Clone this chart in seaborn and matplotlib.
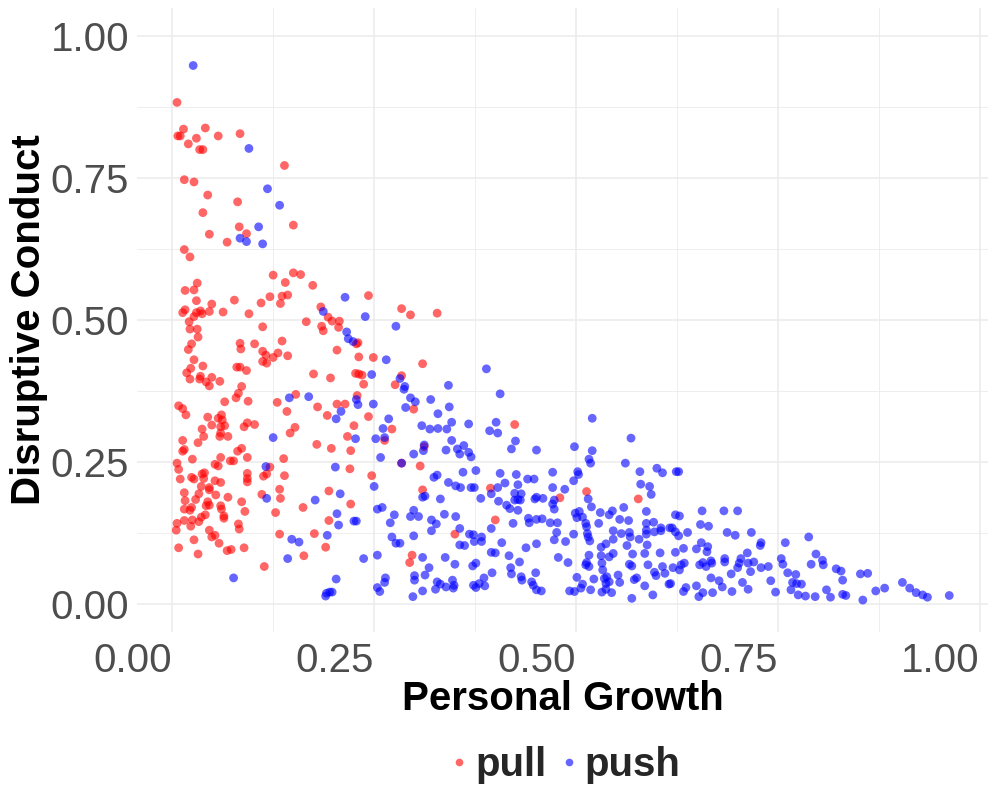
import matplotlib
matplotlib.use("Agg")
import matplotlib.pyplot as plt
from matplotlib.lines import Line2D
from matplotlib.ticker import MultipleLocator
import pandas as pd
import seaborn as sns

# values (Personal Growth, Disruptive Conduct)
pull_pts = [
    (0.006, 0.883), (0.014, 0.836), (0.007, 0.824), (0.010, 0.824), (0.041, 0.838), (0.030, 0.820),
    (0.020, 0.810), (0.034, 0.800), (0.038, 0.800), (0.057, 0.824), (0.084, 0.828), (0.139, 0.772),
    (0.015, 0.747), (0.027, 0.743), (0.044, 0.720), (0.081, 0.708), (0.038, 0.689), (0.150, 0.667),
    (0.083, 0.664), (0.092, 0.652), (0.046, 0.651), (0.068, 0.637), (0.015, 0.624),
    (0.022, 0.611), (0.031, 0.565), (0.016, 0.552), (0.027, 0.553), (0.030, 0.534), (0.049, 0.528),
    (0.077, 0.535), (0.110, 0.530), (0.121, 0.541), (0.016, 0.518), (0.013, 0.513), (0.030, 0.513),
    (0.035, 0.516), (0.037, 0.511), (0.027, 0.506), (0.046, 0.515), (0.063, 0.514), (0.095, 0.511),
    (0.021, 0.497), (0.022, 0.484), (0.031, 0.484), (0.032, 0.470), (0.112, 0.488), (0.024, 0.458),
    (0.020, 0.448), (0.084, 0.459), (0.085, 0.449), (0.102, 0.458), (0.112, 0.445), (0.116, 0.438),
    (0.112, 0.427), (0.117, 0.424), (0.027, 0.430), (0.038, 0.419), (0.023, 0.415), (0.018, 0.407),
    (0.080, 0.417), (0.084, 0.417), (0.092, 0.411), (0.022, 0.396), (0.035, 0.401), (0.034, 0.396),
    (0.042, 0.391), (0.046, 0.384), (0.049, 0.399), (0.059, 0.392), (0.086, 0.383), (0.082, 0.371),
    (0.079, 0.363), (0.065, 0.356), (0.094, 0.357), (0.008, 0.349), (0.013, 0.344),
    (0.017, 0.333), (0.044, 0.329), (0.057, 0.327), (0.061, 0.333), (0.062, 0.324), (0.049, 0.315),
    (0.065, 0.314), (0.060, 0.312), (0.093, 0.319), (0.089, 0.312), (0.102, 0.316), (0.037, 0.308),
    (0.039, 0.295), (0.060, 0.301), (0.059, 0.295), (0.069, 0.295), (0.013, 0.288), (0.032, 0.284),
    (0.015, 0.272), (0.013, 0.269), (0.086, 0.274), (0.081, 0.269), (0.025, 0.255), (0.060, 0.258),
    (0.093, 0.258), (0.006, 0.248), (0.008, 0.237), (0.053, 0.246), (0.057, 0.243), (0.072, 0.252),
    (0.076, 0.252), (0.010, 0.220), (0.024, 0.223), (0.027, 0.220), (0.037, 0.229), (0.040, 0.231),
    (0.039, 0.221), (0.053, 0.217), (0.060, 0.214), (0.093, 0.230), (0.093, 0.221), (0.093, 0.215),
    (0.036, 0.207), (0.046, 0.205), (0.046, 0.201), (0.015, 0.196), (0.033, 0.194), (0.054, 0.192),
    (0.069, 0.188), (0.111, 0.193), (0.016, 0.182), (0.029, 0.184), (0.044, 0.180), (0.046, 0.174),
    (0.042, 0.173), (0.086, 0.180), (0.015, 0.167), (0.024, 0.170), (0.022, 0.165), (0.060, 0.173),
    (0.061, 0.167), (0.090, 0.163), (0.041, 0.157), (0.036, 0.153), (0.064, 0.155), (0.064, 0.151),
    (0.006, 0.142), (0.015, 0.147), (0.025, 0.148), (0.023, 0.137), (0.033, 0.145), (0.082, 0.141),
    (0.083, 0.132), (0.005, 0.130), (0.046, 0.130), (0.053, 0.121), (0.049, 0.118), (0.027, 0.113),
    (0.058, 0.107), (0.008, 0.099), (0.068, 0.094), (0.073, 0.096), (0.089, 0.099), (0.032, 0.088),
    (0.114, 0.066),
    (0.125, 0.579), (0.150, 0.583), (0.159, 0.580), (0.140, 0.566), (0.174, 0.561), (0.136, 0.542),
    (0.143, 0.544), (0.134, 0.529), (0.243, 0.543), (0.184, 0.523), (0.193, 0.505), (0.198, 0.498),
    (0.207, 0.498), (0.284, 0.520), (0.295, 0.509), (0.328, 0.512), (0.166, 0.497), (0.185, 0.489),
    (0.187, 0.481), (0.206, 0.487), (0.230, 0.460), (0.228, 0.458), (0.136, 0.463), (0.131, 0.442),
    (0.125, 0.434), (0.143, 0.437), (0.204, 0.447), (0.231, 0.435), (0.249, 0.434), (0.310, 0.423),
    (0.175, 0.405), (0.196, 0.398), (0.227, 0.406), (0.231, 0.405), (0.235, 0.403), (0.237, 0.387),
    (0.284, 0.402), (0.276, 0.386), (0.153, 0.369), (0.130, 0.355), (0.229, 0.367), (0.180, 0.347),
    (0.204, 0.352), (0.214, 0.352),
    (0.142, 0.339), (0.192, 0.332), (0.243, 0.330), (0.152, 0.311), (0.146, 0.301), (0.225, 0.314),
    (0.272, 0.308), (0.179, 0.281), (0.197, 0.274), (0.217, 0.295), (0.221, 0.270), (0.263, 0.288),
    (0.138, 0.256), (0.121, 0.241), (0.113, 0.225), (0.117, 0.229), (0.139, 0.226), (0.220, 0.238),
    (0.247, 0.226), (0.133, 0.202), (0.134, 0.186), (0.194, 0.199), (0.162, 0.170), (0.221, 0.176),
    (0.128, 0.161), (0.194, 0.147), (0.133, 0.123), (0.176, 0.124), (0.190, 0.100), (0.163, 0.085),
    (0.424, 0.316), (0.299, 0.343), (0.312, 0.277), (0.284, 0.248), (0.307, 0.243), (0.394, 0.204),
    (0.310, 0.201), (0.400, 0.148), (0.350, 0.123), (0.297, 0.086), (0.294, 0.073), (0.513, 0.198),
    (0.480, 0.187), (0.577, 0.185),
]

push_pts = [
    (0.026, 0.948), (0.095, 0.802), (0.118, 0.731), (0.133, 0.702), (0.107, 0.664), (0.084, 0.644),
    (0.092, 0.638), (0.112, 0.634), (0.116, 0.242), (0.117, 0.186), (0.076, 0.046),
    (0.214, 0.540), (0.187, 0.515), (0.239, 0.506), (0.277, 0.489), (0.216, 0.479), (0.218, 0.467),
    (0.224, 0.462), (0.265, 0.430), (0.247, 0.404), (0.282, 0.397), (0.288, 0.383), (0.287, 0.378),
    (0.295, 0.363), (0.301, 0.356), (0.320, 0.360), (0.145, 0.363), (0.169, 0.365), (0.228, 0.360),
    (0.230, 0.351), (0.249, 0.352),
    (0.209, 0.339), (0.203, 0.326), (0.268, 0.326), (0.261, 0.309), (0.125, 0.293), (0.227, 0.291),
    (0.252, 0.291), (0.263, 0.293), (0.258, 0.258), (0.202, 0.241), (0.250, 0.207), (0.208, 0.194),
    (0.177, 0.183), (0.254, 0.167), (0.260, 0.170), (0.275, 0.157), (0.204, 0.159), (0.206, 0.139),
    (0.225, 0.146), (0.228, 0.146), (0.270, 0.143), (0.192, 0.121), (0.148, 0.114), (0.157, 0.109),
    (0.272, 0.118), (0.277, 0.107), (0.143, 0.080), (0.237, 0.080), (0.254, 0.086), (0.203, 0.044),
    (0.264, 0.046), (0.263, 0.038), (0.254, 0.029), (0.257, 0.022), (0.191, 0.019), (0.195, 0.021),
    (0.198, 0.021), (0.190, 0.014),
    (0.389, 0.414), (0.342, 0.385), (0.406, 0.370), (0.343, 0.347), (0.329, 0.335), (0.319, 0.308),
    (0.329, 0.309), (0.340, 0.308), (0.346, 0.320), (0.367, 0.317), (0.401, 0.320), (0.393, 0.305),
    (0.403, 0.301), (0.520, 0.327), (0.346, 0.288), (0.361, 0.279), (0.353, 0.273), (0.425, 0.287),
    (0.420, 0.273), (0.451, 0.271), (0.498, 0.277), (0.520, 0.270), (0.339, 0.271),
    (0.289, 0.346), (0.309, 0.314), (0.312, 0.280), (0.311, 0.270), (0.299, 0.264), (0.356, 0.264),
    (0.367, 0.267), (0.370, 0.259), (0.284, 0.248), (0.324, 0.223), (0.328, 0.227), (0.342, 0.214),
    (0.360, 0.232), (0.376, 0.235), (0.351, 0.208), (0.357, 0.205), (0.370, 0.205), (0.374, 0.205),
    (0.406, 0.230), (0.412, 0.213), (0.426, 0.228), (0.440, 0.220), (0.448, 0.220), (0.428, 0.210),
    (0.424, 0.195), (0.432, 0.194), (0.424, 0.183), (0.428, 0.184), (0.431, 0.183), (0.403, 0.205),
    (0.395, 0.194), (0.313, 0.190), (0.310, 0.188), (0.332, 0.185), (0.382, 0.186), (0.404, 0.181),
    (0.414, 0.174), (0.418, 0.168), (0.428, 0.165), (0.449, 0.185), (0.451, 0.188), (0.299, 0.165),
    (0.295, 0.154), (0.305, 0.154), (0.337, 0.158), (0.351, 0.154), (0.321, 0.148), (0.327, 0.141),
    (0.321, 0.129), (0.356, 0.133), (0.395, 0.133), (0.422, 0.142), (0.441, 0.151), (0.442, 0.143),
    (0.451, 0.149), (0.299, 0.120), (0.282, 0.107), (0.368, 0.123), (0.373, 0.122), (0.383, 0.118),
    (0.374, 0.110), (0.383, 0.110), (0.356, 0.104), (0.362, 0.103), (0.408, 0.108), (0.438, 0.099),
    (0.451, 0.106), (0.395, 0.091), (0.400, 0.090), (0.310, 0.082), (0.338, 0.082), (0.350, 0.070),
    (0.376, 0.072), (0.372, 0.067), (0.417, 0.085), (0.430, 0.074), (0.318, 0.064), (0.419, 0.064),
    (0.420, 0.053), (0.450, 0.055), (0.300, 0.050), (0.300, 0.042), (0.313, 0.051), (0.328, 0.039),
    (0.332, 0.035), (0.347, 0.042), (0.349, 0.033), (0.348, 0.028), (0.326, 0.026), (0.339, 0.030),
    (0.310, 0.023), (0.298, 0.013), (0.386, 0.046), (0.373, 0.033), (0.380, 0.036), (0.387, 0.032),
    (0.376, 0.029), (0.396, 0.055), (0.432, 0.048), (0.433, 0.042), (0.445, 0.039), (0.447, 0.033),
    (0.451, 0.025),
    (0.568, 0.292), (0.516, 0.255), (0.518, 0.248), (0.561, 0.248), (0.600, 0.239), (0.607, 0.231),
    (0.471, 0.232), (0.502, 0.233), (0.503, 0.228), (0.579, 0.233), (0.497, 0.217), (0.580, 0.211),
    (0.591, 0.207), (0.593, 0.193), (0.471, 0.205), (0.486, 0.202), (0.459, 0.186), (0.473, 0.183),
    (0.471, 0.176), (0.473, 0.167), (0.515, 0.185), (0.519, 0.171), (0.559, 0.170), (0.587, 0.163),
    (0.530, 0.161), (0.545, 0.164), (0.541, 0.157), (0.499, 0.160), (0.504, 0.163), (0.501, 0.152),
    (0.508, 0.153), (0.458, 0.150), (0.468, 0.143), (0.477, 0.143), (0.512, 0.142), (0.513, 0.136),
    (0.528, 0.142), (0.554, 0.149), (0.565, 0.147), (0.587, 0.142), (0.596, 0.144), (0.546, 0.129),
    (0.556, 0.124), (0.566, 0.126), (0.567, 0.118), (0.587, 0.130), (0.587, 0.123), (0.597, 0.127),
    (0.605, 0.129), (0.605, 0.134), (0.616, 0.134), (0.497, 0.123), (0.514, 0.124), (0.517, 0.111),
    (0.515, 0.118), (0.476, 0.126), (0.473, 0.113), (0.487, 0.110), (0.546, 0.114), (0.537, 0.106),
    (0.531, 0.100), (0.563, 0.103), (0.578, 0.114), (0.588, 0.104), (0.478, 0.082), (0.490, 0.073),
    (0.516, 0.086), (0.513, 0.073), (0.516, 0.066), (0.512, 0.069), (0.531, 0.085), (0.532, 0.072),
    (0.533, 0.060), (0.546, 0.089), (0.541, 0.083), (0.570, 0.088), (0.585, 0.089), (0.604, 0.090),
    (0.566, 0.070), (0.569, 0.067), (0.589, 0.069), (0.597, 0.056), (0.599, 0.050), (0.607, 0.066),
    (0.610, 0.054), (0.501, 0.047), (0.522, 0.044), (0.535, 0.045), (0.538, 0.048), (0.541, 0.039),
    (0.537, 0.036), (0.552, 0.051), (0.554, 0.038), (0.572, 0.043), (0.575, 0.046), (0.585, 0.032),
    (0.615, 0.035), (0.457, 0.023), (0.492, 0.023), (0.498, 0.022), (0.506, 0.028), (0.508, 0.035),
    (0.518, 0.025), (0.532, 0.021), (0.544, 0.020), (0.537, 0.026), (0.569, 0.010), (0.595, 0.016),
    (0.624, 0.233), (0.627, 0.233), (0.656, 0.164), (0.683, 0.164), (0.700, 0.164), (0.623, 0.157),
    (0.628, 0.155), (0.619, 0.134), (0.623, 0.127), (0.627, 0.120), (0.638, 0.126), (0.654, 0.140),
    (0.664, 0.137), (0.687, 0.126), (0.697, 0.121), (0.717, 0.126), (0.729, 0.108), (0.728, 0.103),
    (0.759, 0.108), (0.788, 0.118), (0.623, 0.091), (0.633, 0.098), (0.649, 0.097), (0.655, 0.108),
    (0.663, 0.101), (0.662, 0.092), (0.620, 0.064), (0.628, 0.060), (0.630, 0.069), (0.634, 0.072),
    (0.653, 0.069), (0.657, 0.073), (0.661, 0.066), (0.667, 0.076), (0.668, 0.072), (0.684, 0.080),
    (0.684, 0.074), (0.704, 0.080), (0.702, 0.072), (0.700, 0.064), (0.712, 0.090), (0.713, 0.072),
    (0.720, 0.074), (0.716, 0.057), (0.729, 0.064), (0.738, 0.066), (0.754, 0.080), (0.756, 0.070),
    (0.762, 0.055), (0.772, 0.052), (0.617, 0.036), (0.667, 0.046), (0.677, 0.041), (0.681, 0.030),
    (0.692, 0.053), (0.706, 0.038), (0.649, 0.032), (0.636, 0.029), (0.633, 0.022), (0.657, 0.020),
    (0.652, 0.013), (0.669, 0.020), (0.693, 0.022), (0.713, 0.026), (0.741, 0.041), (0.747, 0.021),
    (0.768, 0.038), (0.773, 0.036), (0.779, 0.035), (0.766, 0.025), (0.775, 0.016), (0.784, 0.014),
    (0.797, 0.088), (0.791, 0.070), (0.805, 0.077), (0.806, 0.069), (0.822, 0.062), (0.828, 0.058),
    (0.830, 0.042), (0.852, 0.053), (0.861, 0.054), (0.796, 0.013), (0.810, 0.025), (0.815, 0.012),
    (0.830, 0.017), (0.834, 0.015), (0.855, 0.007), (0.871, 0.023), (0.882, 0.028), (0.904, 0.038),
    (0.913, 0.028), (0.921, 0.020), (0.929, 0.016), (0.935, 0.012), (0.962, 0.015),
]

groups = ["pull", "push"]
colors = {"pull": "#FF0000", "push": "#0000FF"}

df = pd.DataFrame(
    [(x, y, "pull") for x, y in pull_pts] + [(x, y, "push") for x, y in push_pts],
    columns=["growth", "conduct", "group"],
)

sns.set_theme(style="white")
plt.rcParams["font.family"] = ["Liberation Sans", "DejaVu Sans"]

fig = plt.figure(figsize=(9.96, 7.97), dpi=100)
ax = fig.add_axes([0.138, 0.2065, 0.854, 0.784])

sns.scatterplot(
    data=df, x="growth", y="conduct", hue="group", hue_order=groups,
    palette=colors, s=40, alpha=0.6, linewidth=0, legend=False, ax=ax, zorder=3,
)

ax.set_xlim(-0.043, 1.010)
ax.set_ylim(-0.05, 1.05)
ax.xaxis.set_major_locator(MultipleLocator(0.25))
ax.yaxis.set_major_locator(MultipleLocator(0.25))
ax.xaxis.set_minor_locator(MultipleLocator(0.125))
ax.yaxis.set_minor_locator(MultipleLocator(0.125))
ax.grid(True, which="major", color="#EBEBEB", linewidth=1.1, zorder=0)
ax.grid(True, which="minor", color="#EBEBEB", linewidth=0.6, zorder=0)
ax.set_axisbelow(True)
for sp in ax.spines.values():
    sp.set_visible(False)

ax.tick_params(which="both", length=0)
ax.tick_params(axis="x", pad=7, labelsize=29, labelcolor="#4D4D4D")
ax.tick_params(axis="y", pad=6, labelsize=29, labelcolor="#4D4D4D")
ax.set_xticklabels([f"{v:.2f}" for v in ax.get_xticks()])
ax.set_yticklabels([f"{v:.2f}" for v in ax.get_yticks()])
for lab in ax.get_xticklabels():
    lab.set_horizontalalignment("right")

ax.set_xlabel("Personal Growth", fontsize=29, fontweight="bold", color="black", va="center")
ax.xaxis.set_label_coords(0.5, -0.106)
ax.set_ylabel("Disruptive Conduct", fontsize=29, fontweight="bold", color="black",
              va="center", ha="center")
ax.yaxis.set_label_coords(-0.128, 0.5)

handles = [Line2D([], [], marker="o", linestyle="none", markersize=5.5,
                  markerfacecolor=colors[g], markeredgewidth=0, alpha=0.6) for g in groups]
leg = fig.legend(handles, groups, loc="center", bbox_to_anchor=(0.568, 0.040), ncol=2,
                 frameon=False, handlelength=0.4, handletextpad=0.2, columnspacing=0.35,
                 borderpad=0, prop={"size": 29, "weight": "bold"})

fig.savefig("out.png", dpi=100, facecolor="white")
plt.close(fig)
